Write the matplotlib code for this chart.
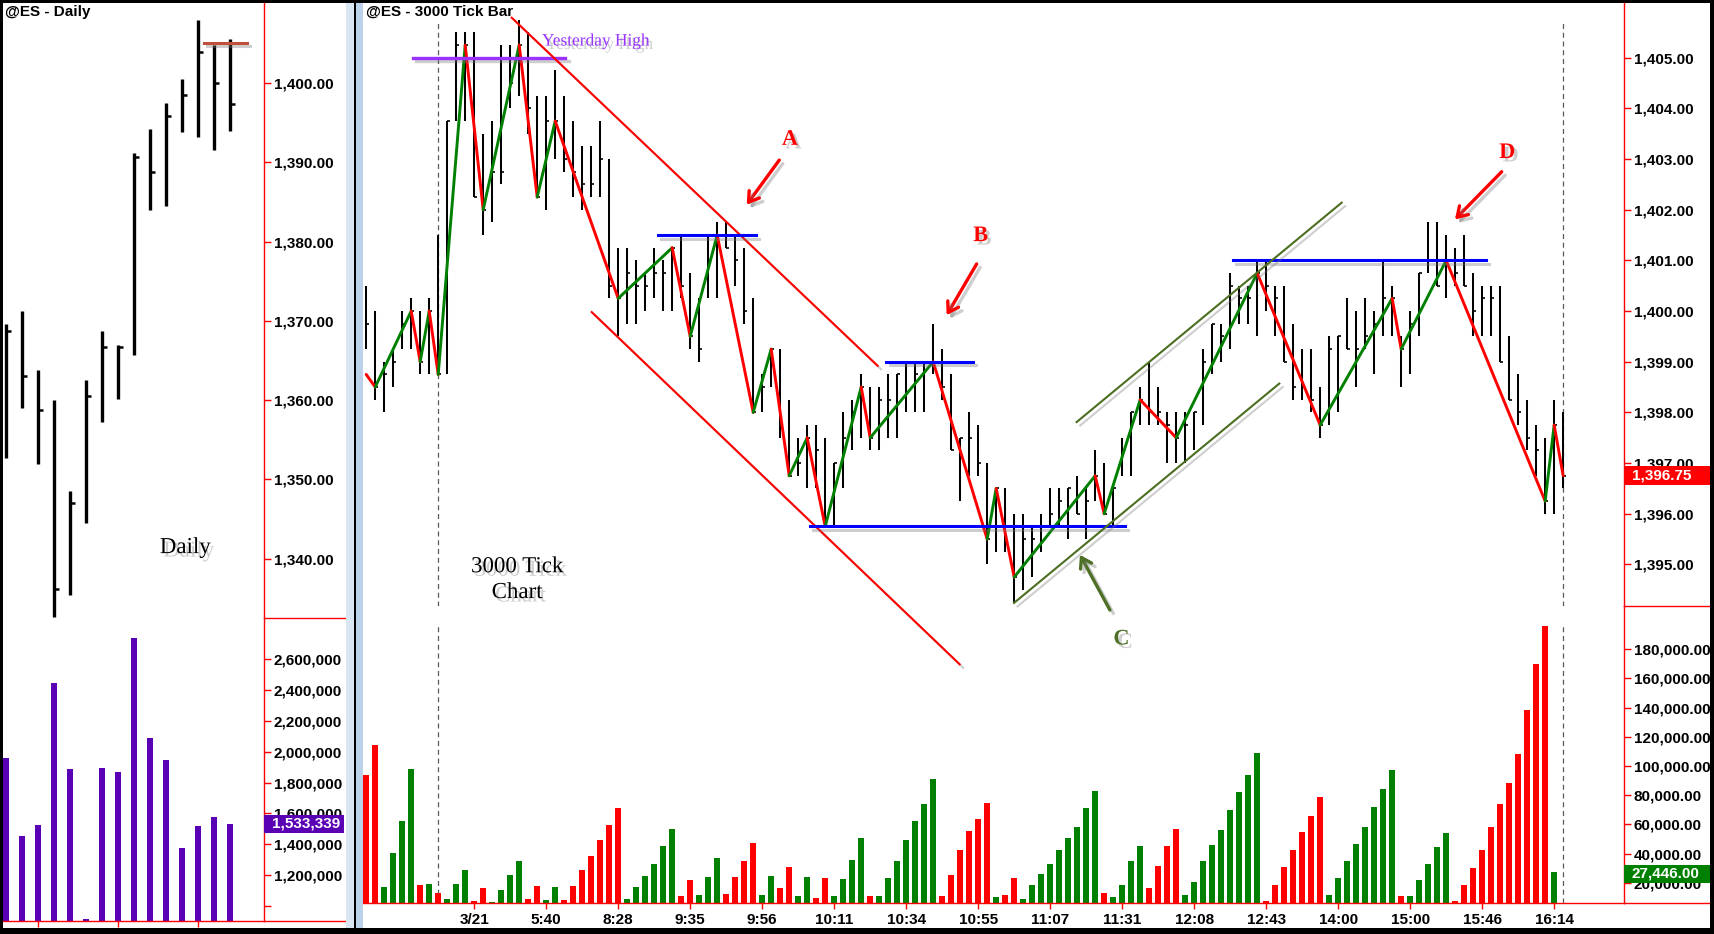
import numpy as np
import matplotlib
matplotlib.use("Agg")
import matplotlib.pyplot as plt
import matplotlib.patheffects as pe
import matplotlib.transforms as mtrans
from matplotlib.patches import Rectangle

plt.rcParams['font.family'] = ['Liberation Sans', 'DejaVu Sans']

# ---------------- daily data ----------------
d_high = [1369.6, 1371.2, 1363.8, 1360.0, 1348.5, 1362.5, 1368.7, 1367.0, 1391.2,
          1394.2, 1397.5, 1400.5, 1407.9, 1404.8, 1405.6]
d_low = [1352.7, 1359.0, 1352.0, 1332.7, 1335.4, 1344.5, 1357.3, 1360.1, 1365.7,
         1384.0, 1384.5, 1393.8, 1393.2, 1391.5, 1394.0]
d_close = [1368.7, 1363.0, 1358.7, 1336.2, 1347.0, 1360.5, 1366.7, 1366.7, 1390.7,
           1388.8, 1395.9, 1398.5, 1403.9, 1400.0, 1397.4]
d_vol = [1959000, 1453000, 1524000, 2446000, 1888000, 914000, 1894000, 1868000,
         2739000, 2089000, 1946000, 1375000, 1518000, 1576000, 1533339]
d_yest_high = 1405.1

# ---------------- 3000 tick data ----------------
t_high = [1400.5, 1400.0, 1399.0, 1399.25, 1400.0, 1400.25, 1400.0, 1400.25, 1401.5, 1403.75,
          1405.5, 1405.5, 1405.5, 1403.5, 1403.75, 1405.25, 1405.25, 1405.75, 1405.5, 1404.25,
          1404.25, 1404.75, 1404.25, 1403.75, 1403.25, 1403.25, 1403.75, 1403.0, 1401.25, 1401.25,
          1401.0, 1400.75, 1401.25, 1401.0, 1401.25, 1401.5, 1400.75, 1400.25, 1401.5, 1401.75,
          1401.75, 1401.5, 1401.25, 1400.25, 1398.75, 1399.25, 1399.25, 1398.25, 1397.5, 1397.75,
          1397.75, 1397.5, 1397.0, 1398.0, 1398.25, 1398.75, 1398.5, 1398.5, 1398.75, 1398.75,
          1399.0, 1399.0, 1399.0, 1399.75, 1399.25, 1398.75, 1397.5, 1398.0, 1397.75, 1397.0,
          1396.5, 1396.5, 1396.0, 1396.0, 1395.75, 1396.0, 1396.5, 1396.5, 1396.5, 1396.75,
          1396.5, 1397.25, 1397.0, 1396.5, 1397.5, 1398.0, 1398.5, 1399.0, 1398.5, 1398.0,
          1398.0, 1398.0, 1398.0, 1399.25, 1399.75, 1399.75, 1400.75, 1400.5, 1400.5, 1401.0,
          1401.0, 1400.5, 1400.5, 1399.75, 1399.25, 1399.25, 1398.5, 1399.5, 1399.5, 1400.25,
          1400.0, 1400.25, 1400.0, 1401.0, 1400.5, 1399.5, 1400.0, 1400.75, 1401.75, 1401.75,
          1401.5, 1401.25, 1401.5, 1400.75, 1400.5, 1400.5, 1400.5, 1399.5, 1398.75, 1398.25,
          1397.75, 1397.5, 1398.25, 1398.0]
t_low = [1399.25, 1398.25, 1398.0, 1398.5, 1399.25, 1399.25, 1398.75, 1398.75, 1398.75, 1398.75,
         1403.75, 1403.75, 1402.25, 1401.5, 1401.75, 1402.5, 1404.0, 1404.25, 1403.5, 1402.25,
         1402.0, 1403.0, 1402.75, 1402.25, 1402.0, 1402.25, 1402.25, 1400.25, 1399.5, 1399.75,
         1399.75, 1400.0, 1400.25, 1400.0, 1400.0, 1400.25, 1399.25, 1399.0, 1400.25, 1400.25,
         1401.25, 1400.5, 1399.75, 1398.0, 1398.0, 1398.5, 1397.5, 1396.75, 1396.75, 1396.5,
         1396.5, 1395.75, 1395.75, 1396.5, 1397.25, 1397.5, 1397.25, 1397.25, 1397.5, 1397.5,
         1398.0, 1398.0, 1398.0, 1398.75, 1398.25, 1397.25, 1396.25, 1396.75, 1396.75, 1395.0,
         1395.25, 1395.25, 1394.25, 1394.5, 1394.75, 1395.25, 1395.75, 1395.75, 1395.5, 1396.0,
         1395.5, 1396.25, 1396.0, 1395.75, 1396.75, 1396.75, 1397.75, 1397.75, 1397.75, 1397.0,
         1397.0, 1397.0, 1397.25, 1397.75, 1398.75, 1399.0, 1399.25, 1399.75, 1399.75, 1399.5,
         1400.0, 1399.5, 1399.0, 1398.25, 1398.25, 1398.0, 1397.5, 1397.75, 1398.0, 1399.25,
         1398.5, 1399.25, 1398.75, 1399.5, 1399.5, 1398.5, 1398.75, 1399.5, 1400.75, 1400.5,
         1400.25, 1400.5, 1400.5, 1399.5, 1399.5, 1399.5, 1399.0, 1398.25, 1397.75, 1397.25,
         1396.75, 1396.0, 1396.0, 1396.5]
t_close = [1399.75, 1398.5, 1398.75, 1399.0, 1399.75, 1400.0, 1399.0, 1400.0, 1398.75, 1403.75,
           1405.25, 1405.25, 1402.25, 1402.0, 1402.75, 1402.75, 1404.5, 1405.25, 1404.0, 1402.25,
           1403.75, 1403.75, 1403.0, 1402.75, 1402.5, 1402.5, 1403.0, 1400.5, 1400.25, 1400.75,
           1400.5, 1400.5, 1400.75, 1400.75, 1401.25, 1400.5, 1399.5, 1399.25, 1401.0, 1401.5,
           1401.25, 1401.0, 1400.0, 1398.0, 1398.5, 1399.25, 1397.75, 1396.75, 1397.0, 1397.5,
           1397.25, 1395.75, 1397.0, 1397.5, 1398.0, 1398.5, 1397.5, 1398.25, 1398.25, 1398.75,
           1399.0, 1398.75, 1399.0, 1399.0, 1398.5, 1397.25, 1397.5, 1397.5, 1397.0, 1395.5,
           1396.5, 1395.75, 1394.75, 1395.5, 1395.5, 1395.75, 1396.0, 1396.25, 1396.5, 1396.0,
           1396.25, 1396.75, 1396.0, 1396.5, 1397.25, 1398.0, 1398.25, 1398.0, 1398.0, 1397.75,
           1397.5, 1397.75, 1398.0, 1399.0, 1399.75, 1399.5, 1400.5, 1400.25, 1400.25, 1400.75,
           1400.5, 1400.25, 1399.0, 1398.5, 1398.5, 1398.25, 1397.75, 1399.25, 1399.5, 1399.25,
           1399.25, 1399.5, 1399.75, 1400.25, 1400.25, 1399.25, 1399.75, 1400.75, 1401.0, 1400.5,
           1401.0, 1400.75, 1400.5, 1400.0, 1400.25, 1400.25, 1399.0, 1398.25, 1398.0, 1397.5,
           1397.25, 1396.25, 1397.75, 1396.75]

# volume per tick bar, thousands of contracts
t_vol = [93.8, 114.4, 17.3, 40.6, 62.3, 97.9, 18.4, 19.1, 12.9, 8.8,
         19.1, 28.7, 7.5, 16.6, 6.8, 15.0, 25.3, 34.9, 8.8, 17.7,
         8.2, 17.1, 8.2, 17.7, 28.7, 38.3, 49.3, 59.6, 71.2, 8.8,
         17.1, 24.6, 32.8, 45.2, 56.8, 10.9, 21.9, 11.6, 23.9, 36.9,
         12.3, 23.9, 34.9, 47.2, 11.6, 24.6, 16.4, 30.8, 10.9, 23.9,
         9.5, 23.2, 10.9, 22.5, 35.6, 50.6, 10.9, 10.9, 23.2, 34.9,
         49.3, 62.3, 73.9, 91.1, 10.9, 25.3, 42.4, 55.4, 63.7, 74.6,
         10.2, 11.6, 23.2, 8.8, 18.4, 26.0, 32.8, 42.4, 50.6, 58.2,
         71.2, 82.9, 12.9, 10.2, 18.4, 34.9, 45.2, 16.4, 31.4, 45.2,
         56.8, 11.6, 20.5, 34.9, 45.8, 56.1, 69.8, 82.2, 93.8, 108.9,
         7.5, 18.4, 30.8, 42.4, 54.8, 65.7, 78.7, 11.6, 23.2, 34.9,
         46.5, 58.2, 71.9, 84.2, 97.2, 10.9, 10.9, 21.9, 32.8, 44.5,
         54.1, 7.5, 18.4, 30.1, 42.4, 58.2, 73.9, 88.3, 108.2, 138.4,
         169.9, 195.9, 27.446]

# swing (zigzag) pivots: bar index and price
piv_idx = [0, 1, 5, 6, 7, 8, 11, 13, 17, 19, 21, 28, 34, 36, 39, 43, 45, 47, 49, 51,
           55, 56, 63, 69, 70, 72, 81, 82, 86, 90, 99, 106, 114, 115, 120, 131, 132, 133]
piv_px = [1398.75, 1398.5, 1400.0, 1399.0, 1400.0, 1398.75, 1405.25, 1402.0, 1405.25, 1402.25,
          1403.75, 1400.25, 1401.25, 1399.5, 1401.5, 1398.0, 1399.25, 1396.75, 1397.5, 1395.75,
          1398.5, 1397.5, 1399.0, 1395.5, 1396.5, 1394.75, 1396.75, 1396.0, 1398.25, 1397.5,
          1400.75, 1397.75, 1400.25, 1399.25, 1401.0, 1396.25, 1397.75, 1396.75]

time_idx = [12, 20, 28, 36, 44, 52, 60, 68, 76, 84, 92, 100, 108, 116, 124, 132]
time_labels = ['3/21', '5:40', '8:28', '9:35', '9:56', '10:11', '10:34', '10:55',
               '11:07', '11:31', '12:08', '12:43', '14:00', '15:00', '15:46', '16:14']
session_marks = [8, 133]
last_price = 1396.75

RED = '#ff0000'
GREEN = '#008000'
BLUE = '#0000ff'
OLIVE = '#4b6e20'

W, H = 1714, 934
fig = plt.figure(figsize=(W / 100, H / 100), dpi=100)
fig.patch.set_facecolor('white')


def px_rect(x0, y0, x1, y1):
    return [x0 / W, 1 - y1 / H, (x1 - x0) / W, (y1 - y0) / H]


line_shadow = [pe.SimpleLineShadow(offset=(2.5, -2.5), shadow_color='0.45', alpha=0.35), pe.Normal()]
text_shadow = [pe.SimplePatchShadow(offset=(2.5, -2.5), shadow_rgbFace='0.45', alpha=0.35), pe.Normal()]


def style_axes(ax, bottom=False):
    for s in ['top', 'left', 'bottom']:
        ax.spines[s].set_visible(False)
    ax.spines['right'].set_color(RED)
    ax.spines['right'].set_linewidth(1.0)
    if bottom:
        ax.spines['bottom'].set_visible(True)
        ax.spines['bottom'].set_color(RED)
        ax.spines['bottom'].set_linewidth(1.0)
    ax.tick_params(axis='y', left=False, right=True, labelleft=False, labelright=True,
                   color=RED, length=5, width=1, pad=2, labelsize=11)
    ax.set_facecolor('white')


# ---------------- daily price ----------------
ax_dp = fig.add_axes(px_rect(3, 3, 264, 618))
xd = np.arange(len(d_high))
ax_dp.vlines(xd, d_low, d_high, color='black', lw=2.4)
ax_dp.hlines(d_close, xd, xd + 0.32, color='black', lw=1.8)
ax_dp.plot([12.375, 15.06], [d_yest_high, d_yest_high], color='#c0503c', lw=2.2,
           path_effects=line_shadow)
ax_dp.set_xlim(-0.19, 16.125)
ax_dp.set_ylim(1332.52, 1410.10)
style_axes(ax_dp)
dp_ticks = np.arange(1340, 1401, 10)
ax_dp.set_yticks(dp_ticks, [f"{v:,.2f}" for v in dp_ticks], fontweight='bold')
ax_dp.set_xticks([])
ax_dp.text(11.2, 1341.4, 'Daily', family=['Liberation Serif', 'DejaVu Serif'], fontsize=16.5,
           ha='center', va='center', path_effects=text_shadow)

# ---------------- daily volume ----------------
ax_dv = fig.add_axes(px_rect(3, 618, 264, 921))
ax_dv.bar(xd, d_vol, width=0.38, color='#5a00b4')
ax_dv.set_xlim(-0.19, 16.125)
ax_dv.set_ylim(0.9014e6, 2.868e6)
style_axes(ax_dv, bottom=True)
dv_ticks = np.arange(1.0e6, 2.61e6, 0.2e6)
ax_dv.set_yticks(dv_ticks, ['' if v < 1.1e6 else f"{v:,.0f}" for v in dv_ticks], fontweight='bold')
ax_dv.set_xticks([2, 7, 12], ['', '', ''])
ax_dv.tick_params(axis='x', color=RED, length=4, width=1)
ax_dv.plot([1, 1 + 81 / 261], [1, 1], transform=ax_dv.transAxes, color=RED, lw=1, clip_on=False)
ax_dv.plot([1, 1 + 81 / 261], [0, 0], transform=ax_dv.transAxes, color=RED, lw=1, clip_on=False)
tr = mtrans.blended_transform_factory(ax_dv.transAxes, ax_dv.transData)
ax_dv.add_patch(Rectangle((1.0, d_vol[-1] - 0.0584e6), 80 / 261, 0.1168e6, transform=tr,
                          facecolor='#5a00b4', edgecolor='none', clip_on=False, zorder=5))
ax_dv.text(1.03, d_vol[-1], f"{d_vol[-1]:,}", transform=tr, color='white', fontweight='bold',
           fontsize=11, va='center', ha='left', zorder=6)

# ---------------- tick chart volume (drawn first, sits under the price pane) ----------------
ax_tv = fig.add_axes(px_rect(362, 606, 1624, 903))
xv = np.arange(len(t_vol))
up = np.zeros(len(t_vol), dtype=bool)
for k in range(len(piv_idx) - 1):
    rising = piv_px[k + 1] > piv_px[k]
    lo = piv_idx[k] + 1 if k > 0 else 0
    for i in range(lo, min(piv_idx[k + 1] + 1, len(t_vol))):
        up[i] = rising
vol_colors = [GREEN if u else RED for u in up]
ax_tv.bar(xv, np.array(t_vol) * 1000, width=0.68, color=vol_colors, zorder=2)
for m in session_marks:
    ax_tv.axvline(m, ymin=0, ymax=0.943, color='0.35', lw=0.9, ls=(0, (4, 3)), zorder=1)
ax_tv.set_xlim(-0.467, 139.76)
ax_tv.set_ylim(6.1e3, 209.6e3)
style_axes(ax_tv, bottom=True)
tv_ticks = np.arange(20000, 180001, 20000)
ax_tv.set_yticks(tv_ticks, [f"{v:,.2f}" for v in tv_ticks], fontweight='bold')
ax_tv.set_xticks(time_idx, time_labels, fontweight='bold', fontsize=11)
ax_tv.tick_params(axis='x', color=RED, length=4, width=1, pad=3)
ax_tv.plot([1, 1 + 90 / 1262], [1, 1], transform=ax_tv.transAxes, color=RED, lw=1, clip_on=False)
ax_tv.plot([1, 1 + 90 / 1262], [0, 0], transform=ax_tv.transAxes, color=RED, lw=1, clip_on=False)
trv = mtrans.blended_transform_factory(ax_tv.transAxes, ax_tv.transData)
last_vol = t_vol[-1] * 1000
ax_tv.add_patch(Rectangle((1.0, last_vol - 7500), 90 / 1262, 12300, transform=trv,
                          facecolor=GREEN, edgecolor='none', clip_on=False, zorder=7))
ax_tv.text(1.006, last_vol - 1350, f"{last_vol:,.2f}", transform=trv, color='white',
           fontweight='bold', fontsize=11, va='center', ha='left', zorder=8)

# ---------------- tick chart price ----------------
ax_tp = fig.add_axes(px_rect(362, 3, 1624, 606))
ax_tp.set_zorder(3)
xt = np.arange(len(t_high))
ax_tp.vlines(xt, t_low, t_high, color='black', lw=1.45, zorder=2)
ax_tp.hlines(t_close, xt, xt + 0.36, color='black', lw=1.2, zorder=2)
for k in range(len(piv_idx) - 1):
    c = GREEN if piv_px[k + 1] > piv_px[k] else RED
    ax_tp.plot(piv_idx[k:k + 2], piv_px[k:k + 2], color=c, lw=2.1, solid_capstyle='round', zorder=4)
for m in session_marks:
    ax_tp.axvline(m, ymin=0, ymax=0.972, color='0.35', lw=0.9, ls=(0, (4, 3)), zorder=1)
ax_tp.set_xlim(-0.467, 139.76)
ax_tp.set_ylim(1394.18, 1406.08)
style_axes(ax_tp)
tp_ticks = np.arange(1395, 1405.5, 1)
ax_tp.set_yticks(tp_ticks, [f"{v:,.2f}" for v in tp_ticks], fontweight='bold')
ax_tp.set_xticks([])

# annotation lines
ann = dict(clip_on=False, zorder=5, path_effects=line_shadow)
ax_tp.plot([5.2, 22.1], [1405.0, 1405.0], color='#9b30ff', lw=2.4, **ann)
ax_tp.plot([16.17, 56.83], [1405.79, 1398.92], color=RED, lw=1.5, **ann)
ax_tp.plot([25.06, 65.94], [1399.98, 1393.03], color=RED, lw=1.5, **ann)
ax_tp.plot([32.4, 43.3], [1401.5, 1401.5], color=BLUE, lw=2.2, **ann)
ax_tp.plot([57.8, 67.4], [1399.0, 1399.0], color=BLUE, lw=2.2, **ann)
ax_tp.plot([49.3, 84.3], [1395.75, 1395.75], color=BLUE, lw=2.2, **ann)
ax_tp.plot([96.3, 124.4], [1401.0, 1401.0], color=BLUE, lw=2.2, **ann)
ax_tp.plot([78.94, 108.39], [1397.81, 1402.14], color=OLIVE, lw=1.5, **ann)
ax_tp.plot([71.98, 101.46], [1394.24, 1398.57], color=OLIVE, lw=1.5, **ann)

serif = ['Liberation Serif', 'DejaVu Serif']
ax_tp.text(25.55, 1405.32, 'Yesterday High', family=serif, fontsize=12.5, color='#9933ff',
           ha='center', va='center', path_effects=text_shadow, zorder=6)
ax_tp.text(16.76, 1394.70, '3000 Tick\nChart', family=serif, fontsize=16.5, color='black',
           ha='center', va='center', linespacing=1.3, path_effects=text_shadow, zorder=6)

arrows = [((42.28, 1402.10), (45.9, 1402.98), RED, 'A', (47.09, 1403.38)),
          ((64.5, 1399.92), (67.83, 1400.93), RED, 'B', (68.28, 1401.48)),
          ((79.31, 1395.19), (82.64, 1394.10), '#4e7026', 'C', (83.92, 1393.52)),
          ((120.98, 1401.81), (126.17, 1402.75), RED, 'D', (126.79, 1403.12))]
for head, tail, col, lab, lpos in arrows:
    ax_tp.annotate('', xy=head, xytext=tail, annotation_clip=False, zorder=6,
                   arrowprops=dict(arrowstyle='->,head_length=0.7,head_width=0.45', color=col,
                                   lw=2.4, shrinkA=0, shrinkB=0, path_effects=line_shadow))
    ax_tp.text(lpos[0], lpos[1], lab, family=serif, fontsize=16, fontweight='bold', color=col,
               ha='center', va='center', path_effects=text_shadow, clip_on=False, zorder=6)

trp = mtrans.blended_transform_factory(ax_tp.transAxes, ax_tp.transData)
ax_tp.add_patch(Rectangle((1.0, last_price - 0.19), 90 / 1262, 0.38, transform=trp,
                          facecolor=RED, edgecolor='none', clip_on=False, zorder=7))
ax_tp.text(1.006, last_price, f"{last_price:,.2f}", transform=trp, color='white',
           fontweight='bold', fontsize=11, va='center', ha='left', zorder=8)

# ---------------- titles ----------------
fig.text(5 / W, 1 - 12 / H, '@ES - Daily', fontsize=11, fontweight='bold', va='center')
fig.text(366 / W, 1 - 12 / H, '@ES - 3000 Tick Bar', fontsize=11, fontweight='bold', va='center')

# ---------------- separator and frame ----------------
fig.add_artist(Rectangle((346 / W, 0), 8.5 / W, 1, transform=fig.transFigure,
                         facecolor='#dbe6f3', edgecolor='none', zorder=9))
fig.add_artist(Rectangle((355.5 / W, 0), 7 / W, 1, transform=fig.transFigure,
                         facecolor='#bcd1ea', edgecolor='none', zorder=9))
fig.add_artist(Rectangle((354.3 / W, 0), 1.4 / W, 1, transform=fig.transFigure,
                         facecolor='black', edgecolor='none', zorder=9))
for (x0, y0, w, h) in [(0, 0, W, 6), (0, H - 3, W, 3), (0, 0, 3, H), (W - 4, 0, 4, H)]:
    fig.add_artist(Rectangle((x0 / W, y0 / H), w / W, h / H, transform=fig.transFigure,
                             facecolor='black', edgecolor='none', zorder=10))

fig.savefig('out.png', dpi=100)
